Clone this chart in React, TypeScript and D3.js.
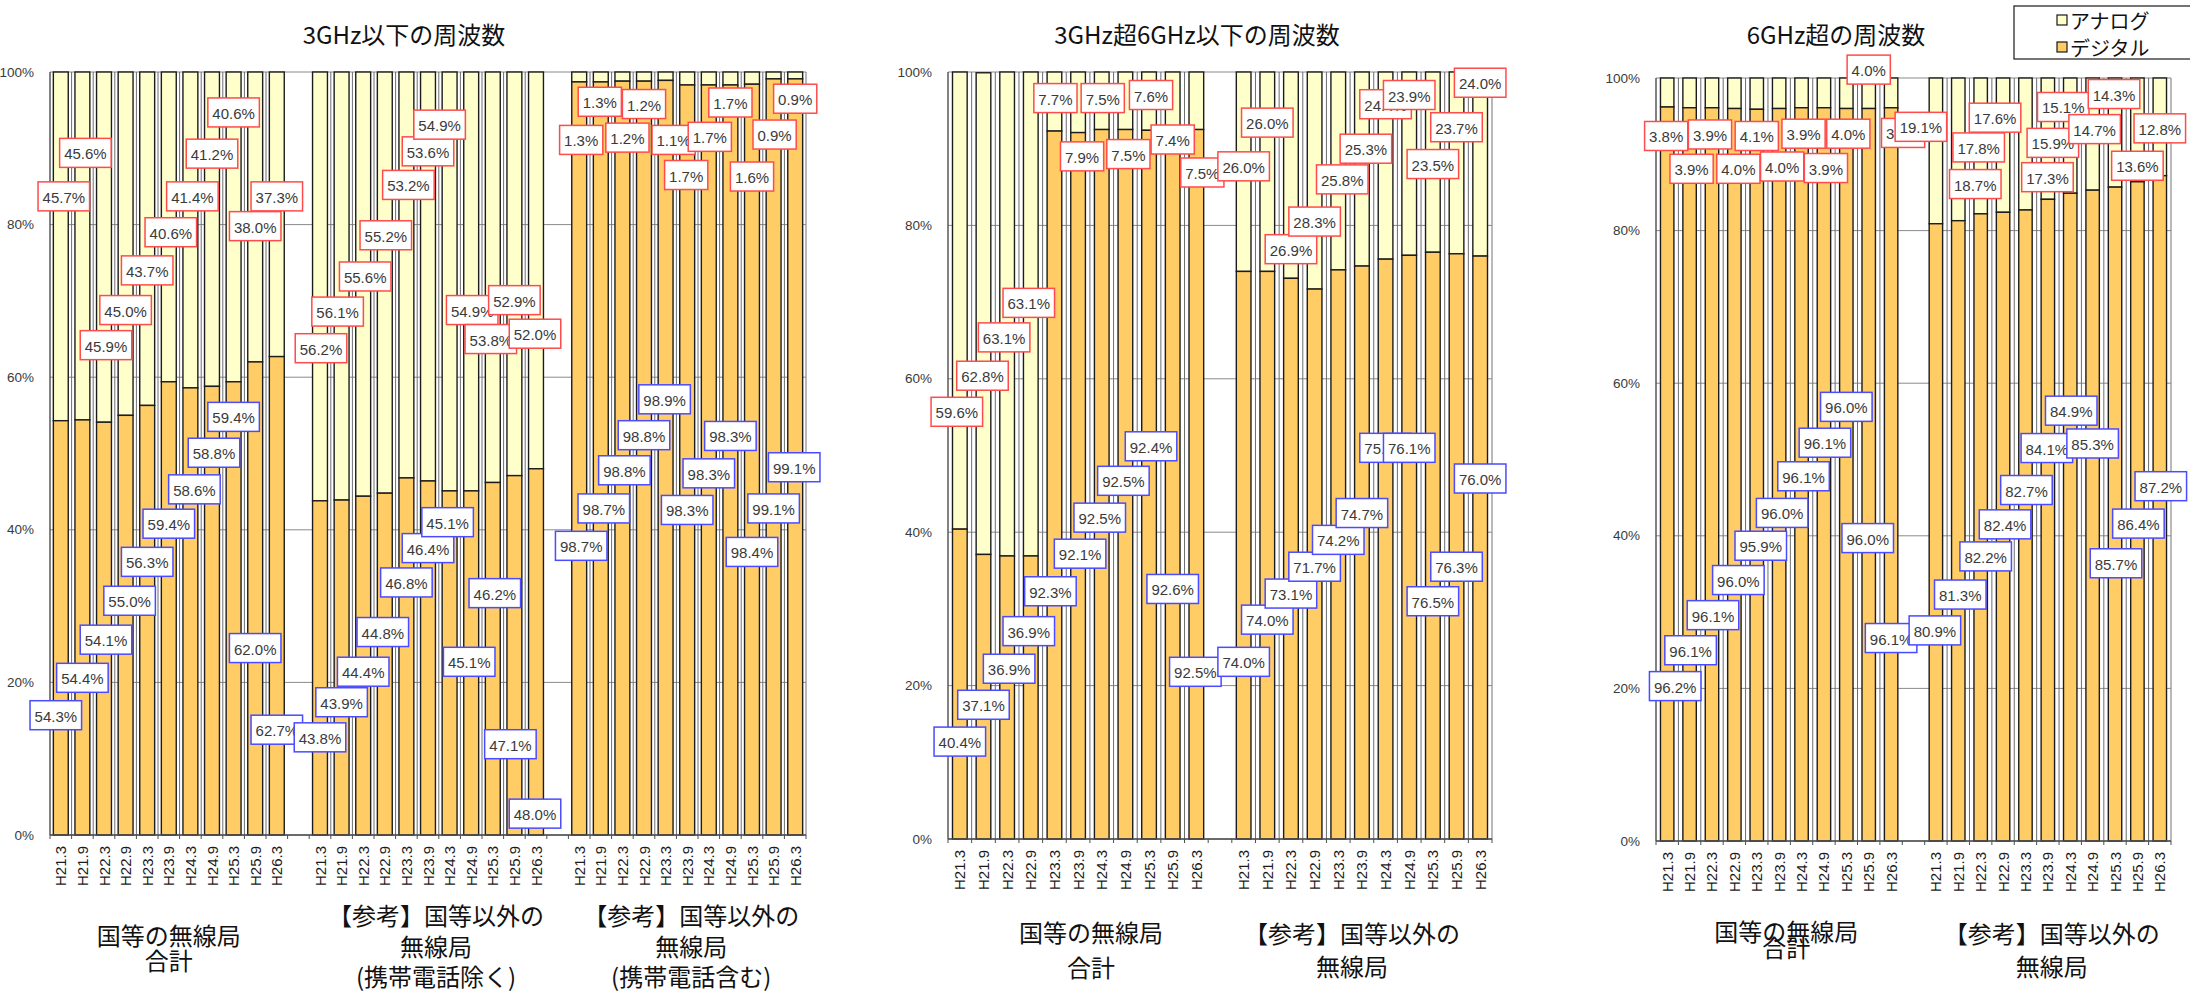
import React from "react";
import * as d3 from "d3";

// Survey dates shared by every group
const periods = ["H21.3", "H21.9", "H22.3", "H22.9", "H23.3", "H23.9", "H24.3", "H24.9", "H25.3", "H25.9", "H26.3"];
const yTicks = [0, 20, 40, 60, 80, 100];

// ---- 3GHz以下の周波数 ----
const p1GovDigital = [54.3, 54.4, 54.1, 55.0, 56.3, 59.4, 58.6, 58.8, 59.4, 62.0, 62.7];
const p1GovAnalog = [45.7, 45.6, 45.9, 45.0, 43.7, 40.6, 41.4, 41.2, 40.6, 38.0, 37.3];
const p1OtherDigital = [43.8, 43.9, 44.4, 44.8, 46.8, 46.4, 45.1, 45.1, 46.2, 47.1, 48.0];
const p1OtherAnalog = [56.2, 56.1, 55.6, 55.2, 53.2, 53.6, 54.9, 54.9, 53.8, 52.9, 52.0];
const p1MobileDigital = [98.7, 98.7, 98.8, 98.8, 98.9, 98.3, 98.3, 98.3, 98.4, 99.1, 99.1];
const p1MobileAnalog = [1.3, 1.3, 1.2, 1.2, 1.1, 1.7, 1.7, 1.7, 1.6, 0.9, 0.9];

// ---- 3GHz超6GHz以下の周波数 ----
const p2GovDigital = [40.4, 37.1, 36.9, 36.9, 92.3, 92.1, 92.5, 92.5, 92.4, 92.6, 92.5];
const p2GovAnalog = [59.6, 62.8, 63.1, 63.1, 7.7, 7.9, 7.5, 7.5, 7.6, 7.4, 7.5];
const p2OtherDigital = [74.0, 74.0, 73.1, 71.7, 74.2, 74.7, 75.6, 76.1, 76.5, 76.3, 76.0];
const p2OtherAnalog = [26.0, 26.0, 26.9, 28.3, 25.8, 25.3, 24.4, 23.9, 23.5, 23.7, 24.0];

// ---- 6GHz超の周波数 ----
const p3GovDigital = [96.2, 96.1, 96.1, 96.0, 95.9, 96.0, 96.1, 96.1, 96.0, 96.0, 96.1];
const p3GovAnalog = [3.8, 3.9, 3.9, 4.0, 4.1, 4.0, 3.9, 3.9, 4.0, 4.0, 3.9];
const p3OtherDigital = [80.9, 81.3, 82.2, 82.4, 82.7, 84.1, 84.9, 85.3, 85.7, 86.4, 87.2];
const p3OtherAnalog = [19.1, 18.7, 17.8, 17.6, 17.3, 15.9, 15.1, 14.7, 14.3, 13.6, 12.8];

// Data-label placement: vertical anchor in axis units (%) and horizontal nudge (px)
const p1GovDigitalAt = [15.7, 20.6, 25.6, 30.7, 35.8, 40.8, 45.3, 50.1, 54.8, 24.5, 13.8];
const p1GovDigitalDx = [-5, 0, 2, 4, 0, 0, 4, 2, 0, 0, 0];
const p1GovAnalogAt = [83.7, 89.4, 64.2, 68.8, 74.0, 79.0, 83.7, 89.3, 94.7, 79.8, 83.7];
const p1GovAnalogDx = [3, 3, 2, 0, 0, 2, 2, 0, 0, 0, 0];
const p1OtherDigitalAt = [12.8, 17.4, 21.4, 26.6, 33.1, 37.6, 41.0, 22.7, 31.7, 11.9, 2.8];
const p1OtherDigitalDx = [0, 0, 0, -2, 0, 0, -2, -2, 2, -4, -1];
const p1OtherAnalogAt = [63.8, 68.6, 73.2, 78.6, 85.2, 89.6, 93.1, 68.8, 65.0, 70.1, 65.7];
const p1OtherAnalogDx = [1, -4, 2, 1, 2, 0, -10, 1, -2, 0, -1];
const p1MobileDigitalAt = [37.9, 42.8, 47.8, 52.4, 57.1, 42.6, 47.4, 52.3, 37.1, 42.8, 48.2];
const p1MobileDigitalDx = [2, 3, 2, 0, -1, 0, 0, 0, 0, 0, -1];
const p1MobileAnalogAt = [91.1, 96.1, 91.4, 95.8, 91.1, 86.5, 91.5, 96.0, 86.3, 91.8, 96.5];
const p1MobileAnalogDx = [2, -1, 5, 0, 8, -1, 1, 0, 0, 1, 0];

const p2GovDigitalAt = [12.7, 17.5, 22.2, 27.1, 32.3, 37.2, 41.9, 46.7, 51.2, 32.6, 21.8];
const p2GovDigitalDx = [0, 0, 2, -2, -4, 2, -2, -2, 2, 0, -1];
const p2GovAnalogAt = [55.7, 60.4, 65.4, 69.9, 96.6, 89.0, 96.6, 89.3, 97.0, 91.2, 86.9];
const p2GovAnalogDx = [-3, -1, -3, -2, 1, 4, 1, 3, 2, 0, 6];
const p2OtherDigitalAt = [23.1, 28.6, 32.0, 35.5, 39.0, 42.5, 51.0, 51.0, 31.0, 35.5, 47.0];
const p2OtherDigitalDx = [0, 0, 0, 0, 0, 0, 0, 0, 0, 0, 0];
const p2OtherAnalogAt = [87.7, 93.4, 76.9, 80.5, 86.0, 90.0, 95.8, 97.0, 88.0, 92.8, 98.6];
const p2OtherAnalogDx = [0, 0, 0, 0, 4, 4, 0, 0, 0, 0, 0];

const p3GovDigitalAt = [20.3, 25.0, 29.6, 34.2, 38.7, 43.0, 47.8, 52.2, 56.9, 39.7, 26.6];
const p3GovDigitalDx = [8, 1, 1, 4, 4, 3, 2, 1, 0, -1, 0];
const p3GovAnalogAt = [92.4, 88.1, 92.6, 88.1, 92.4, 88.4, 92.7, 88.2, 92.7, 101.1, 92.8];
const p3GovAnalogDx = [-1, 2, -2, 4, 0, 3, 2, 2, 2, 0, 12];
const p3OtherDigitalAt = [27.6, 32.3, 37.3, 41.5, 46.0, 51.5, 56.4, 52.1, 36.4, 41.6, 46.5];
const p3OtherDigitalDx = [-1, 2, 5, 2, 1, -1, 1, 0, 1, 1, 1];
const p3OtherAnalogAt = [93.6, 86.1, 90.9, 94.8, 87.0, 91.5, 96.2, 93.3, 97.9, 88.5, 93.4];
const p3OtherAnalogDx = [-15, 17, -2, -8, 22, 5, -7, 2, -1, 0, 0];

// Group captions under each panel
const capGov = ["国等の無線局", "合計"];
const capOtherExMobile = ["【参考】国等以外の", "無線局", "(携帯電話除く)"];
const capOtherInMobile = ["【参考】国等以外の", "無線局", "(携帯電話含む)"];
const capOther = ["【参考】国等以外の", "無線局"];

const legendItems = ["アナログ", "デジタル"];

const COLOR_DIGITAL = "#FFCC66";
const COLOR_ANALOG = "#FFFFCC";
const LATIN = "'Liberation Sans', Arial, sans-serif";
const CJK = "'Noto Sans CJK JP', 'Noto Sans', sans-serif";

type Group = {
  digital: number[];
  analog: number[];
  digitalAt: number[];
  digitalDx: number[];
  analogAt: number[];
  analogDx: number[];
  caption: string[];
  captionY: number[];
  captionDx: number;
};

type Panel = {
  title: string;
  titleX: number;
  left: number;
  right: number;
  top: number;
  bottom: number;
  barRatio: number;
  groups: Group[];
};

const panels: Panel[] = [
  {
    title: "3GHz以下の周波数",
    titleX: 404,
    left: 50,
    right: 806,
    top: 72,
    bottom: 835,
    barRatio: 0.69,
    groups: [
      { digital: p1GovDigital, analog: p1GovAnalog, digitalAt: p1GovDigitalAt, digitalDx: p1GovDigitalDx, analogAt: p1GovAnalogAt, analogDx: p1GovAnalogDx, caption: capGov, captionY: [934, 959], captionDx: 0 },
      { digital: p1OtherDigital, analog: p1OtherAnalog, digitalAt: p1OtherDigitalAt, digitalDx: p1OtherDigitalDx, analogAt: p1OtherAnalogAt, analogDx: p1OtherAnalogDx, caption: capOtherExMobile, captionY: [914, 945, 975], captionDx: 8 },
      { digital: p1MobileDigital, analog: p1MobileAnalog, digitalAt: p1MobileDigitalAt, digitalDx: p1MobileDigitalDx, analogAt: p1MobileAnalogAt, analogDx: p1MobileAnalogDx, caption: capOtherInMobile, captionY: [914, 945, 975], captionDx: 4 },
    ],
  },
  {
    title: "3GHz超6GHz以下の周波数",
    titleX: 1197,
    left: 948,
    right: 1492,
    top: 72,
    bottom: 839,
    barRatio: 0.62,
    groups: [
      { digital: p2GovDigital, analog: p2GovAnalog, digitalAt: p2GovDigitalAt, digitalDx: p2GovDigitalDx, analogAt: p2GovAnalogAt, analogDx: p2GovAnalogDx, caption: capGov, captionY: [931, 966], captionDx: 13 },
      { digital: p2OtherDigital, analog: p2OtherAnalog, digitalAt: p2OtherDigitalAt, digitalDx: p2OtherDigitalDx, analogAt: p2OtherAnalogAt, analogDx: p2OtherAnalogDx, caption: capOther, captionY: [932, 965], captionDx: -10 },
    ],
  },
  {
    title: "6GHz超の周波数",
    titleX: 1836,
    left: 1656,
    right: 2171,
    top: 78,
    bottom: 841,
    barRatio: 0.6,
    groups: [
      { digital: p3GovDigital, analog: p3GovAnalog, digitalAt: p3GovDigitalAt, digitalDx: p3GovDigitalDx, analogAt: p3GovAnalogAt, analogDx: p3GovAnalogDx, caption: capGov, captionY: [930, 946], captionDx: 7 },
      { digital: p3OtherDigital, analog: p3OtherAnalog, digitalAt: p3OtherDigitalAt, digitalDx: p3OtherDigitalDx, analogAt: p3OtherAnalogAt, analogDx: p3OtherAnalogDx, caption: capOther, captionY: [932, 965], captionDx: 4 },
    ],
  },
];

// Approximate advance widths (em) for the label font
function textWidth(s: string, size: number) {
  let w = 0;
  for (const ch of s) {
    if (ch === ".") w += 0.278;
    else if (ch === "%") w += 0.889;
    else w += 0.556;
  }
  return w * size;
}

const LABEL_FS = 15;

function ValueLabel({ x, y, text, stroke }: { x: number; y: number; text: string; stroke: string }) {
  const w = textWidth(text, LABEL_FS) + 9;
  const h = 29;
  return (
    <g transform={`translate(${x},${y})`}>
      <rect x={-w / 2} y={-h / 2} width={w} height={h} fill="#ffffff" stroke={stroke} strokeWidth={1.5} />
      <text x={0} y={1} textAnchor="middle" dominantBaseline="central" fontFamily={LATIN} fontSize={LABEL_FS} fill="#3a3a3a">
        {text}
      </text>
    </g>
  );
}

function ChartPanel({ p }: { p: Panel }) {
  const slotKeys: string[] = [];
  p.groups.forEach((_, gi) => {
    if (gi > 0) slotKeys.push(`gap-${gi}`);
    periods.forEach((per) => slotKeys.push(`${gi}|${per}`));
  });
  const x = d3.scaleBand<string>().domain(slotKeys).range([p.left, p.right]).paddingInner(0).paddingOuter(0);
  const y = d3.scaleLinear().domain([0, 100]).range([p.bottom, p.top]);
  const bw = x.bandwidth();
  const barW = bw * p.barRatio;
  const center = (gi: number, i: number) => (x(`${gi}|${periods[i]}`) as number) + bw / 2;

  const boundaries = d3.range(slotKeys.length + 1).map((i) => p.left + i * bw);

  return (
    <g>
      {/* title */}
      <text x={p.titleX} y={44} textAnchor="middle" fontFamily={CJK} fontSize={24} fill="#111">
        {p.title}
      </text>

      {/* horizontal gridlines */}
      {yTicks.map((t) => (
        <line key={`g${t}`} x1={p.left} x2={p.right} y1={y(t)} y2={y(t)} stroke="#8a8a8a" strokeWidth={1} />
      ))}
      {/* right frame */}
      <line x1={p.right} x2={p.right} y1={p.top} y2={p.bottom} stroke="#8a8a8a" strokeWidth={1.2} />

      {/* category separators inside each group */}
      {p.groups.map((_, gi) =>
        periods.slice(1).map((per, i) => {
          const bx = x(`${gi}|${per}`) as number;
          return <line key={`s${gi}-${i}`} x1={bx} x2={bx} y1={p.top} y2={p.bottom} stroke="#6e6e6e" strokeWidth={1} />;
        })
      )}

      {/* stacked bars */}
      {p.groups.map((g, gi) =>
        periods.map((per, i) => {
          const bx = (x(`${gi}|${per}`) as number) + (bw - barW) / 2;
          const d = g.digital[i];
          const a = g.analog[i];
          return (
            <g key={`b${gi}-${i}`}>
              <rect x={bx} y={y(d + a)} width={barW} height={y(d) - y(d + a)} fill={COLOR_ANALOG} stroke="#1c1c1c" strokeWidth={1.4} />
              <rect x={bx} y={y(d)} width={barW} height={y(0) - y(d)} fill={COLOR_DIGITAL} stroke="#1c1c1c" strokeWidth={1.4} />
            </g>
          );
        })
      )}

      {/* axes */}
      <line x1={p.left} x2={p.left} y1={p.top} y2={p.bottom} stroke="#4d4d4d" strokeWidth={1.4} />
      <line x1={p.left} x2={p.right} y1={p.bottom} y2={p.bottom} stroke="#4d4d4d" strokeWidth={1.4} />
      {boundaries.map((bx, i) => (
        <line key={`t${i}`} x1={bx} x2={bx} y1={p.bottom} y2={p.bottom + 4} stroke="#4d4d4d" strokeWidth={1} />
      ))}

      {/* y tick labels */}
      {yTicks.map((t) => (
        <text key={`yl${t}`} x={p.left - 16} y={y(t)} textAnchor="end" dominantBaseline="central" fontFamily={LATIN} fontSize={13.5} fill="#3a3a3a">
          {`${t}%`}
        </text>
      ))}

      {/* x tick labels */}
      {p.groups.map((_, gi) =>
        periods.map((per, i) => (
          <text
            key={`xl${gi}-${i}`}
            transform={`translate(${center(gi, i) + 5.5},${p.bottom + 11}) rotate(-90)`}
            textAnchor="end"
            fontFamily={LATIN}
            fontSize={15}
            fill="#1a1a1a"
          >
            {per}
          </text>
        ))
      )}

      {/* group captions */}
      {p.groups.map((g, gi) => {
        const cx = (center(gi, 0) + center(gi, periods.length - 1)) / 2 + g.captionDx;
        return g.caption.map((line, li) => (
          <text key={`c${gi}-${li}`} x={cx} y={g.captionY[li]} textAnchor="middle" dominantBaseline="central" fontFamily={CJK} fontSize={24} fill="#111">
            {line}
          </text>
        ));
      })}

      {/* digital value labels */}
      {p.groups.map((g, gi) =>
        g.digital.map((v, i) => (
          <ValueLabel key={`dl${gi}-${i}`} x={center(gi, i) + g.digitalDx[i]} y={y(g.digitalAt[i])} text={`${v.toFixed(1)}%`} stroke="#4b4bff" />
        ))
      )}
      {/* analog value labels */}
      {p.groups.map((g, gi) =>
        g.analog.map((v, i) => (
          <ValueLabel key={`al${gi}-${i}`} x={center(gi, i) + g.analogDx[i]} y={y(g.analogAt[i])} text={`${v.toFixed(1)}%`} stroke="#ff4b4b" />
        ))
      )}
    </g>
  );
}

function Legend() {
  const fills = [COLOR_ANALOG, COLOR_DIGITAL];
  return (
    <g>
      <rect x={2014} y={6} width={200} height={53} fill="#ffffff" stroke="#1a1a1a" strokeWidth={1.2} />
      {legendItems.map((name, i) => (
        <g key={name}>
          <rect x={2057} y={15 + i * 27} width={10} height={10} fill={fills[i]} stroke="#1a1a1a" strokeWidth={1.2} />
          <text x={2070} y={20 + i * 27} dominantBaseline="central" fontFamily={CJK} fontSize={20} fill="#111">
            {name}
          </text>
        </g>
      ))}
    </g>
  );
}

export default function App() {
  return (
    <svg width={2190} height={993} viewBox="0 0 2190 993" style={{ position: "absolute", left: 0, top: 0, background: "#ffffff" }}>
      <rect x={0} y={0} width={2190} height={993} fill="#ffffff" />
      {panels.map((p) => (
        <ChartPanel key={p.title} p={p} />
      ))}
      <Legend />
    </svg>
  );
}
